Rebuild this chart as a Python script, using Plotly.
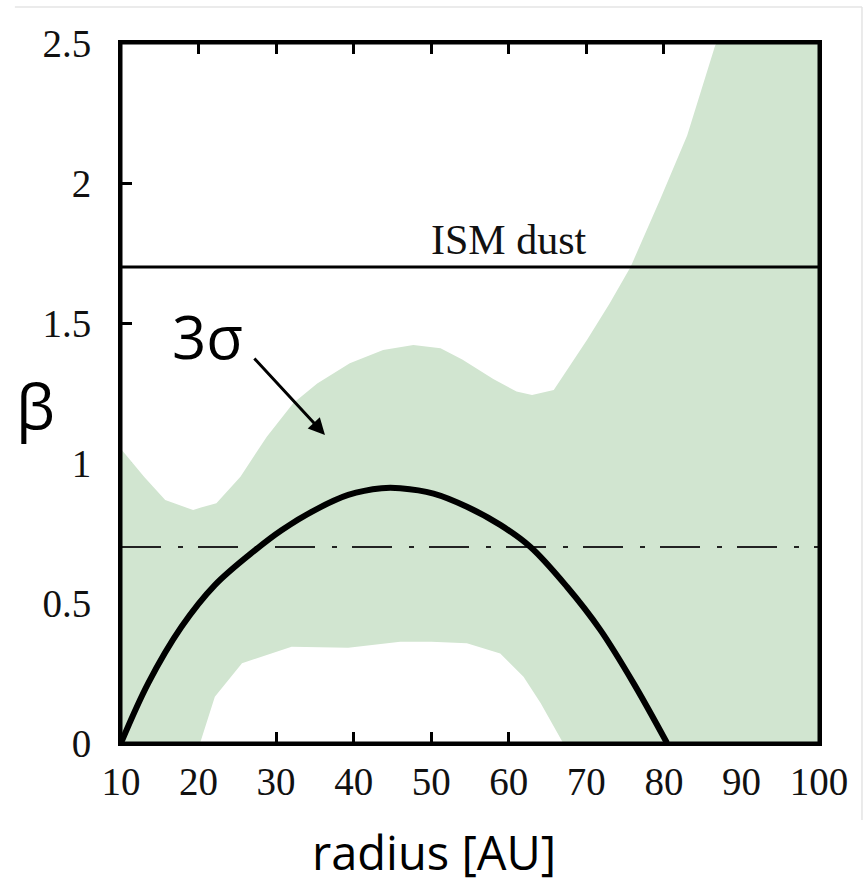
import plotly.graph_objects as go

# Upper edge of the 3-sigma band (radius [AU], beta)
upper_x = [10, 13, 15.7, 19.3, 20.2, 22.3, 25.4, 28.8, 32.2, 35.3, 39.5, 43.8, 47.7, 51.2,
           54, 58, 61, 63, 65.8, 70.1, 73, 75.7, 79.5, 83, 86.6, 86.8, 100]
upper_y = [1.05, 0.95, 0.868, 0.832, 0.84, 0.856, 0.951, 1.094, 1.213, 1.284, 1.356, 1.404,
           1.421, 1.41, 1.37, 1.30, 1.255, 1.243, 1.261, 1.44, 1.57, 1.70, 1.94, 2.17, 2.49,
           2.5, 2.5]
# Lower edge of the band
lower_x = [10, 20.2, 22.1, 25.6, 28.6, 32, 39.3, 46, 50, 54.6, 58.9, 61.9, 64.1, 67, 100]
lower_y = [0, 0, 0.165, 0.285, 0.314, 0.344, 0.34, 0.362, 0.362, 0.356, 0.32, 0.237,
           0.143, 0, 0]

# Best-fit beta profile
fit_x = [10, 13.5, 17.8, 22.1, 27.3, 30.7, 35, 39.3, 43.6, 46, 50.3, 54.6, 58.9, 62.8,
         67.5, 71.8, 76.1, 80.4]
fit_y = [0, 0.213, 0.415, 0.564, 0.689, 0.76, 0.832, 0.886, 0.91, 0.91, 0.891, 0.844,
         0.779, 0.70, 0.558, 0.404, 0.213, 0]

ism_beta = 1.7
ref_beta = 0.7
x_ticks = [10, 20, 30, 40, 50, 60, 70, 80, 90, 100]
y_ticks = [0, 0.5, 1, 1.5, 2, 2.5]

band_x = upper_x + lower_x[::-1]
band_y = upper_y + lower_y[::-1]

fig = go.Figure()
fig.add_trace(go.Scatter(x=band_x, y=band_y, fill="toself", mode="lines",
                         line=dict(width=0), fillcolor="rgb(209,229,208)",
                         hoverinfo="skip", showlegend=False))
fig.add_trace(go.Scatter(x=[10, 100], y=[ism_beta, ism_beta], mode="lines",
                         line=dict(color="black", width=3), showlegend=False))
fig.add_trace(go.Scatter(x=[10, 100], y=[ref_beta, ref_beta], mode="lines",
                         line=dict(color="#222", width=1.8, dash="40px,17px,5px,15px"),
                         showlegend=False))
fig.add_trace(go.Scatter(x=fit_x, y=fit_y, mode="lines", line_shape="spline",
                         line=dict(color="black", width=6), showlegend=False))

tickfont = dict(family="Liberation Serif", size=39, color="#111")
fig.update_xaxes(range=[10, 100], tickvals=x_ticks, ticks="inside", ticklen=11, tickwidth=2.5,
                 tickcolor="black", mirror="ticks", showline=True, linecolor="black",
                 linewidth=3, showgrid=False, zeroline=False, tickfont=tickfont,
                 layer="below traces", ticklabelstandoff=2)
fig.update_yaxes(range=[0, 2.5], tickvals=y_ticks, ticks="inside", ticklen=11, tickwidth=2.5,
                 tickcolor="black", mirror="ticks", showline=True, linecolor="black",
                 linewidth=3, showgrid=False, zeroline=False, tickfont=tickfont,
                 layer="below traces", ticklabelstandoff=19)

fig.add_shape(type="rect", xref="paper", yref="paper", x0=0, x1=1, y0=0, y1=1,
              line=dict(color="black", width=3), layer="above")
# faint image border
fig.add_shape(type="line", xref="paper", yref="paper", x0=-0.152, x1=1.0616, y0=1.0514,
              y1=1.0514, line=dict(color="#e4e4e4", width=1.5))
fig.add_shape(type="line", xref="paper", yref="paper", x0=1.0616, x1=1.0616, y0=1.0514,
              y1=-0.11, line=dict(color="#e4e4e4", width=1.5))

fig.add_annotation(x=60, y=ism_beta, yshift=27, text="ISM dust", showarrow=False,
                   xanchor="center",
                   font=dict(family="Liberation Serif", size=42, color="#111"))
fig.add_annotation(xref="paper", yref="paper", x=(207 - 121) / 698, y=(743 - 336) / 700,
                   text="3σ", showarrow=False, xanchor="center", yanchor="middle",
                   font=dict(family="Open Sans", size=60, color="black"))
fig.add_annotation(x=36.3, y=1.1, ax=-72, ay=-78, text="", showarrow=True,
                   arrowhead=2, arrowsize=1.1, arrowwidth=3, arrowcolor="black")
fig.add_annotation(xref="paper", yref="paper", x=(434 - 121) / 698, y=(743 - 852) / 700,
                   text="radius [AU]", showarrow=False, xanchor="center", yanchor="middle",
                   font=dict(family="Open Sans", size=47, color="black"))
fig.add_annotation(xref="paper", yref="paper", x=(35 - 121) / 698, y=(743 - 405) / 700,
                   text="β", showarrow=False, xanchor="center", yanchor="middle",
                   font=dict(family="Open Sans", size=62, color="black"))

fig.update_layout(width=865, height=885, paper_bgcolor="white", plot_bgcolor="white",
                  margin=dict(l=121, r=46, t=43, b=142), showlegend=False)

fig.write_html("out.html", config={"displayModeBar": False},
               post_script="document.body.style.margin='0';document.body.style.overflow='hidden';")
